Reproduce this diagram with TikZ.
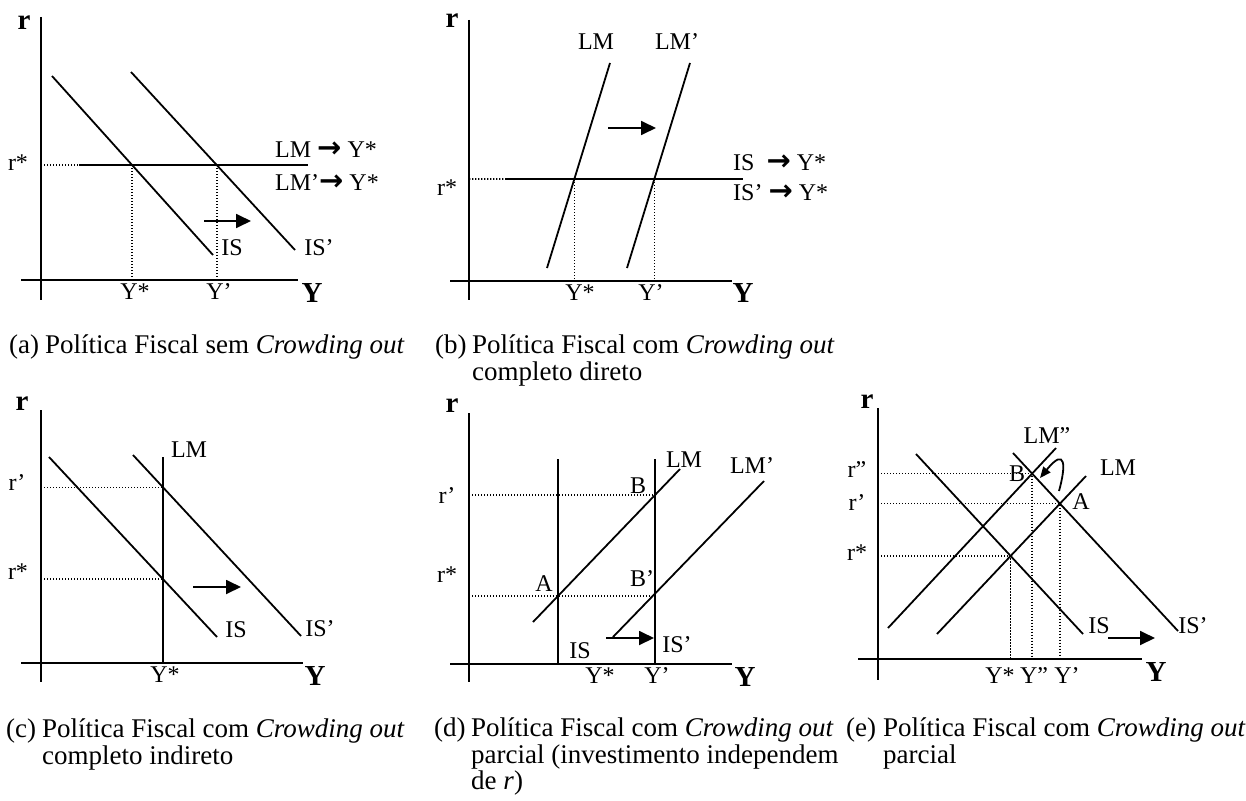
\documentclass[tikz,border=0pt]{standalone}
\usepackage{fontspec}
\setmainfont{Liberation Serif}
\newfontfamily\dvs{DejaVu Sans}
\usetikzlibrary{arrows.meta}
\tikzset{
 lab/.style={font=\fontsize{24}{26}\selectfont, inner sep=0pt, anchor=base},
 labw/.style={lab, anchor=base west},
 axlab/.style={font=\fontsize{29}{30}\selectfont\bfseries, inner sep=0pt, anchor=base},
 capt/.style={font=\fontsize{27}{27}\selectfont, inner sep=0pt, anchor=base west},
 axisline/.style={line width=1.9pt},
 curve/.style={line width=1.8pt},
 guide/.style={line width=1.6pt, dash pattern=on 1.4pt off 1.6pt},
 shiftarrow/.style={line width=1.8pt, -{Triangle[length=15pt,width=14pt]}},
}
\newcommand{\arr}{{\dvs\bfseries\fontsize{29}{29}\selectfont →}}
\begin{document}
\begin{tikzpicture}[x=1pt,y=-1pt]
\useasboundingbox (0,0) rectangle (1246,800);
% ================= panel (a)
\coordinate (ayt) at (41,17); \coordinate (ayb) at (41,300);
\coordinate (axl) at (21,280); \coordinate (axr) at (298,280);
\draw[axisline] (ayt) -- (ayb);
\draw[axisline] (axl) -- (axr);
\node[axlab] (ar) at (24,30) {r};
\node[axlab] (aY) at (312,302) {Y};
\coordinate (ais1) at (52,76); \coordinate (ais2) at (213,255);
\coordinate (aisp1) at (131,72); \coordinate (aisp2) at (295,250);
\coordinate (alm1) at (79,165); \coordinate (alm2) at (308,165);
\draw[curve] (ais1) -- (ais2);
\draw[curve] (aisp1) -- (aisp2);
\draw[curve] (alm1) -- (alm2);
\coordinate (aE) at (intersection of ais1--ais2 and alm1--alm2);
\coordinate (aEp) at (intersection of aisp1--aisp2 and alm1--alm2);
\draw[guide] (aE -| ayt) -- (aE);
\draw[guide] (aE) -- (aE |- axl);
\draw[guide] (aEp) -- (aEp |- axl);
\node[lab] (ars) at (18,170) {r*};
\node[labw] (alab1) at (275,157) {LM \arr\ Y*};
\node[labw] (alab2) at (275,190) {LM’\arr\ Y*};
\node[lab] (aYs) at (135,299) {Y*};
\node[lab] (aYp) at (219,299) {Y’};
\node[lab] (aIS) at (232,255) {IS};
\node[lab] (aISp) at (319,255) {IS’};
\coordinate (aar1) at (204,221); \coordinate (aar2) at (251,221);
\draw[shiftarrow] (aar1) -- (aar2);
% ================= panel (b)
\coordinate (byt) at (469,20); \coordinate (byb) at (469,300);
\coordinate (bxl) at (450,281); \coordinate (bxr) at (732,281);
\draw[axisline] (byt) -- (byb);
\draw[axisline] (bxl) -- (bxr);
\node[axlab] (br) at (452,28) {r};
\node[axlab] (bY) at (743,302) {Y};
\coordinate (blm1) at (547,268); \coordinate (blm2) at (610,63);
\coordinate (blmp1) at (627,268); \coordinate (blmp2) at (690,63);
\coordinate (bis1) at (505,179); \coordinate (bis2) at (743,179);
\draw[curve] (blm1) -- (blm2);
\draw[curve] (blmp1) -- (blmp2);
\draw[curve] (bis1) -- (bis2);
\coordinate (bE) at (intersection of blm1--blm2 and bis1--bis2);
\coordinate (bEp) at (intersection of blmp1--blmp2 and bis1--bis2);
\draw[guide] (bE -| byt) -- (bis1);
\draw[guide] (bE) -- (bE |- bxl);
\draw[guide] (bEp) -- (bEp |- bxl);
\node[lab] (bLM) at (596,50) {LM};
\node[lab] (bLMp) at (677,50) {LM’};
\coordinate (bar1) at (608,128); \coordinate (bar2) at (656,128);
\draw[shiftarrow] (bar1) -- (bar2);
\node[labw] (blab1) at (733,170) {IS \ \arr\ Y*};
\node[labw] (blab2) at (733,200) {IS’ \arr\ Y*};
\node[lab] (brs) at (447,195) {r*};
\node[lab] (bYs) at (580,300) {Y*};
\node[lab] (bYp) at (651,300) {Y’};
% ================= panel (c)
\coordinate (cyt) at (41,410); \coordinate (cyb) at (41,682);
\coordinate (cxl) at (21,663); \coordinate (cxr) at (303,663);
\draw[axisline] (cyt) -- (cyb);
\draw[axisline] (cxl) -- (cxr);
\node[axlab] (cr) at (22,410) {r};
\node[axlab] (cY) at (315,685) {Y};
\coordinate (clm1) at (163,457); \coordinate (clm2) at (163,663);
\coordinate (cis1) at (49,457); \coordinate (cis2) at (217,637);
\coordinate (cisp1) at (133,455); \coordinate (cisp2) at (301,636);
\draw[curve] (clm1) -- (clm2);
\draw[curve] (cis1) -- (cis2);
\draw[curve] (cisp1) -- (cisp2);
\coordinate (cE) at (intersection of cis1--cis2 and clm1--clm2);
\coordinate (cEp) at (intersection of cisp1--cisp2 and clm1--clm2);
\draw[guide] (cE -| cyt) -- (cE);
\draw[guide] (cEp -| cyt) -- (cEp);
\node[lab] (cLM) at (189,457) {LM};
\node[lab] (crp) at (17,490) {r’};
\node[lab] (crs) at (18,579) {r*};
\coordinate (car1) at (193,587); \coordinate (car2) at (241,587);
\draw[shiftarrow] (car1) -- (car2);
\node[lab] (cIS) at (236,637) {IS};
\node[lab] (cISp) at (320,636) {IS’};
\node[lab] (cYs) at (165,682) {Y*};
% ================= panel (d)
\coordinate (dyt) at (469,413); \coordinate (dyb) at (469,682);
\coordinate (dxl) at (450,664); \coordinate (dxr) at (732,664);
\draw[axisline] (dyt) -- (dyb);
\draw[axisline] (dxl) -- (dxr);
\node[axlab] (dr) at (452,412) {r};
\node[axlab] (dY) at (745,686) {Y};
\coordinate (dv11) at (558,459); \coordinate (dv12) at (558,664);
\coordinate (dv21) at (655,459); \coordinate (dv22) at (655,664);
\coordinate (dlm1) at (533,622); \coordinate (dlm2) at (680,469);
\coordinate (dlmp1) at (613,637); \coordinate (dlmp2) at (764,481);
\draw[curve] (dv11) -- (dv12);
\draw[curve] (dv21) -- (dv22);
\draw[curve] (dlm1) -- (dlm2);
\draw[curve] (dlmp1) -- (dlmp2);
\coordinate (dB) at (intersection of dlm1--dlm2 and dv21--dv22);
\coordinate (dA) at (intersection of dlm1--dlm2 and dv11--dv12);
\draw[guide] (dB -| dyt) -- (dB);
\draw[guide] (dA -| dyt) -- (dA -| dv21);
\node[lab] (dLM) at (684,467) {LM};
\node[lab] (dLMp) at (752,473) {LM’};
\node[lab] (drp) at (447,503) {r’};
\node[lab] (drs) at (447,582) {r*};
\node[lab] (dBl) at (638,493) {B};
\node[lab] (dBp) at (642,586) {B’};
\node[lab] (dAl) at (544,591) {A};
\coordinate (dar1) at (606,638); \coordinate (dar2) at (654,638);
\draw[shiftarrow] (dar1) -- (dar2);
\node[lab] (dIS) at (580,658) {IS};
\node[lab] (dISp) at (677,652) {IS’};
\node[lab] (dYs) at (600,683) {Y*};
\node[lab] (dYp) at (657,683) {Y’};
% ================= panel (e)
\coordinate (eyt) at (878,408); \coordinate (eyb) at (878,680);
\coordinate (exl) at (858,659); \coordinate (exr) at (1142,659);
\draw[axisline] (eyt) -- (eyb);
\draw[axisline] (exl) -- (exr);
\node[axlab] (er) at (867,408) {r};
\node[axlab] (eY) at (1156,681) {Y};
\coordinate (elmpp1) at (888,628); \coordinate (elmpp2) at (1056,448);
\coordinate (elm1) at (937,634); \coordinate (elm2) at (1086,476);
\coordinate (eis1) at (916,454); \coordinate (eis2) at (1083,634);
\coordinate (eisp1) at (1013,453); \coordinate (eisp2) at (1178,631);
\draw[curve] (elmpp1) -- (elmpp2);
\draw[curve] (elm1) -- (elm2);
\draw[curve] (eis1) -- (eis2);
\draw[curve] (eisp1) -- (eisp2);
\coordinate (eB) at (intersection of elmpp1--elmpp2 and eisp1--eisp2);
\coordinate (eA) at (intersection of elm1--elm2 and eisp1--eisp2);
\coordinate (eS) at (intersection of elm1--elm2 and eis1--eis2);
\draw[guide] (eB -| eyt) -- (eB) -- (eB |- exl);
\draw[guide] (eA -| eyt) -- (eA) -- (eA |- exl);
\draw[guide] (eS -| eyt) -- (eS) -- (eS |- exl);
\node[lab] (eLMpp) at (1047,443) {LM”};
\node[lab] (eLM) at (1118,475) {LM};
\node[lab] (erpp) at (857,477) {r”};
\node[lab] (erp) at (857,510) {r’};
\node[lab] (ers) at (857,560) {r*};
\node[lab] (eBl) at (1017,481) {B};
\node[lab] (eAl) at (1081,509) {A};
\coordinate (ecs) at (1059,491); \coordinate (ece) at (1040,478);
\draw[curve, -{Triangle[length=11pt,width=9pt]}] (ecs) .. controls (1066,466) and (1066,446) .. (ece);
\node[lab] (eIS) at (1099,633) {IS};
\node[lab] (eISp) at (1193,633) {IS’};
\coordinate (ear1) at (1108,638); \coordinate (ear2) at (1155,638);
\draw[shiftarrow] (ear1) -- (ear2);
\node[lab] (eYs) at (1000,683) {Y*};
\node[lab] (eYpp) at (1034,683) {Y”};
\node[lab] (eYp) at (1067,683) {Y’};
% ================= captions
\node[capt] (capa) at (9,353) {(a)};
\node[capt] (capa1) at (45,353) {Política Fiscal sem \textit{Crowding out}};
\node[capt] (capb) at (435,353) {(b)};
\node[capt] (capb1) at (472,353) {Política Fiscal com \textit{Crowding out}};
\node[capt] (capb2) at (472,380) {completo direto};
\node[capt] (capc) at (6,737) {(c)};
\node[capt] (capc1) at (42,737) {Política Fiscal com \textit{Crowding out}};
\node[capt] (capc2) at (42,764) {completo indireto};
\node[capt] (capd) at (434,736) {(d)};
\node[capt] (capd1) at (471,736) {Política Fiscal com \textit{Crowding out}};
\node[capt] (capd2) at (471,763) {parcial (investimento independem};
\node[capt] (capd3) at (471,789) {de \textit{r})};
\node[capt] (cape) at (846,736) {(e)};
\node[capt] (cape1) at (883,736) {Política Fiscal com \textit{Crowding out}};
\node[capt] (cape2) at (883,763) {parcial};
\end{tikzpicture}
\end{document}
